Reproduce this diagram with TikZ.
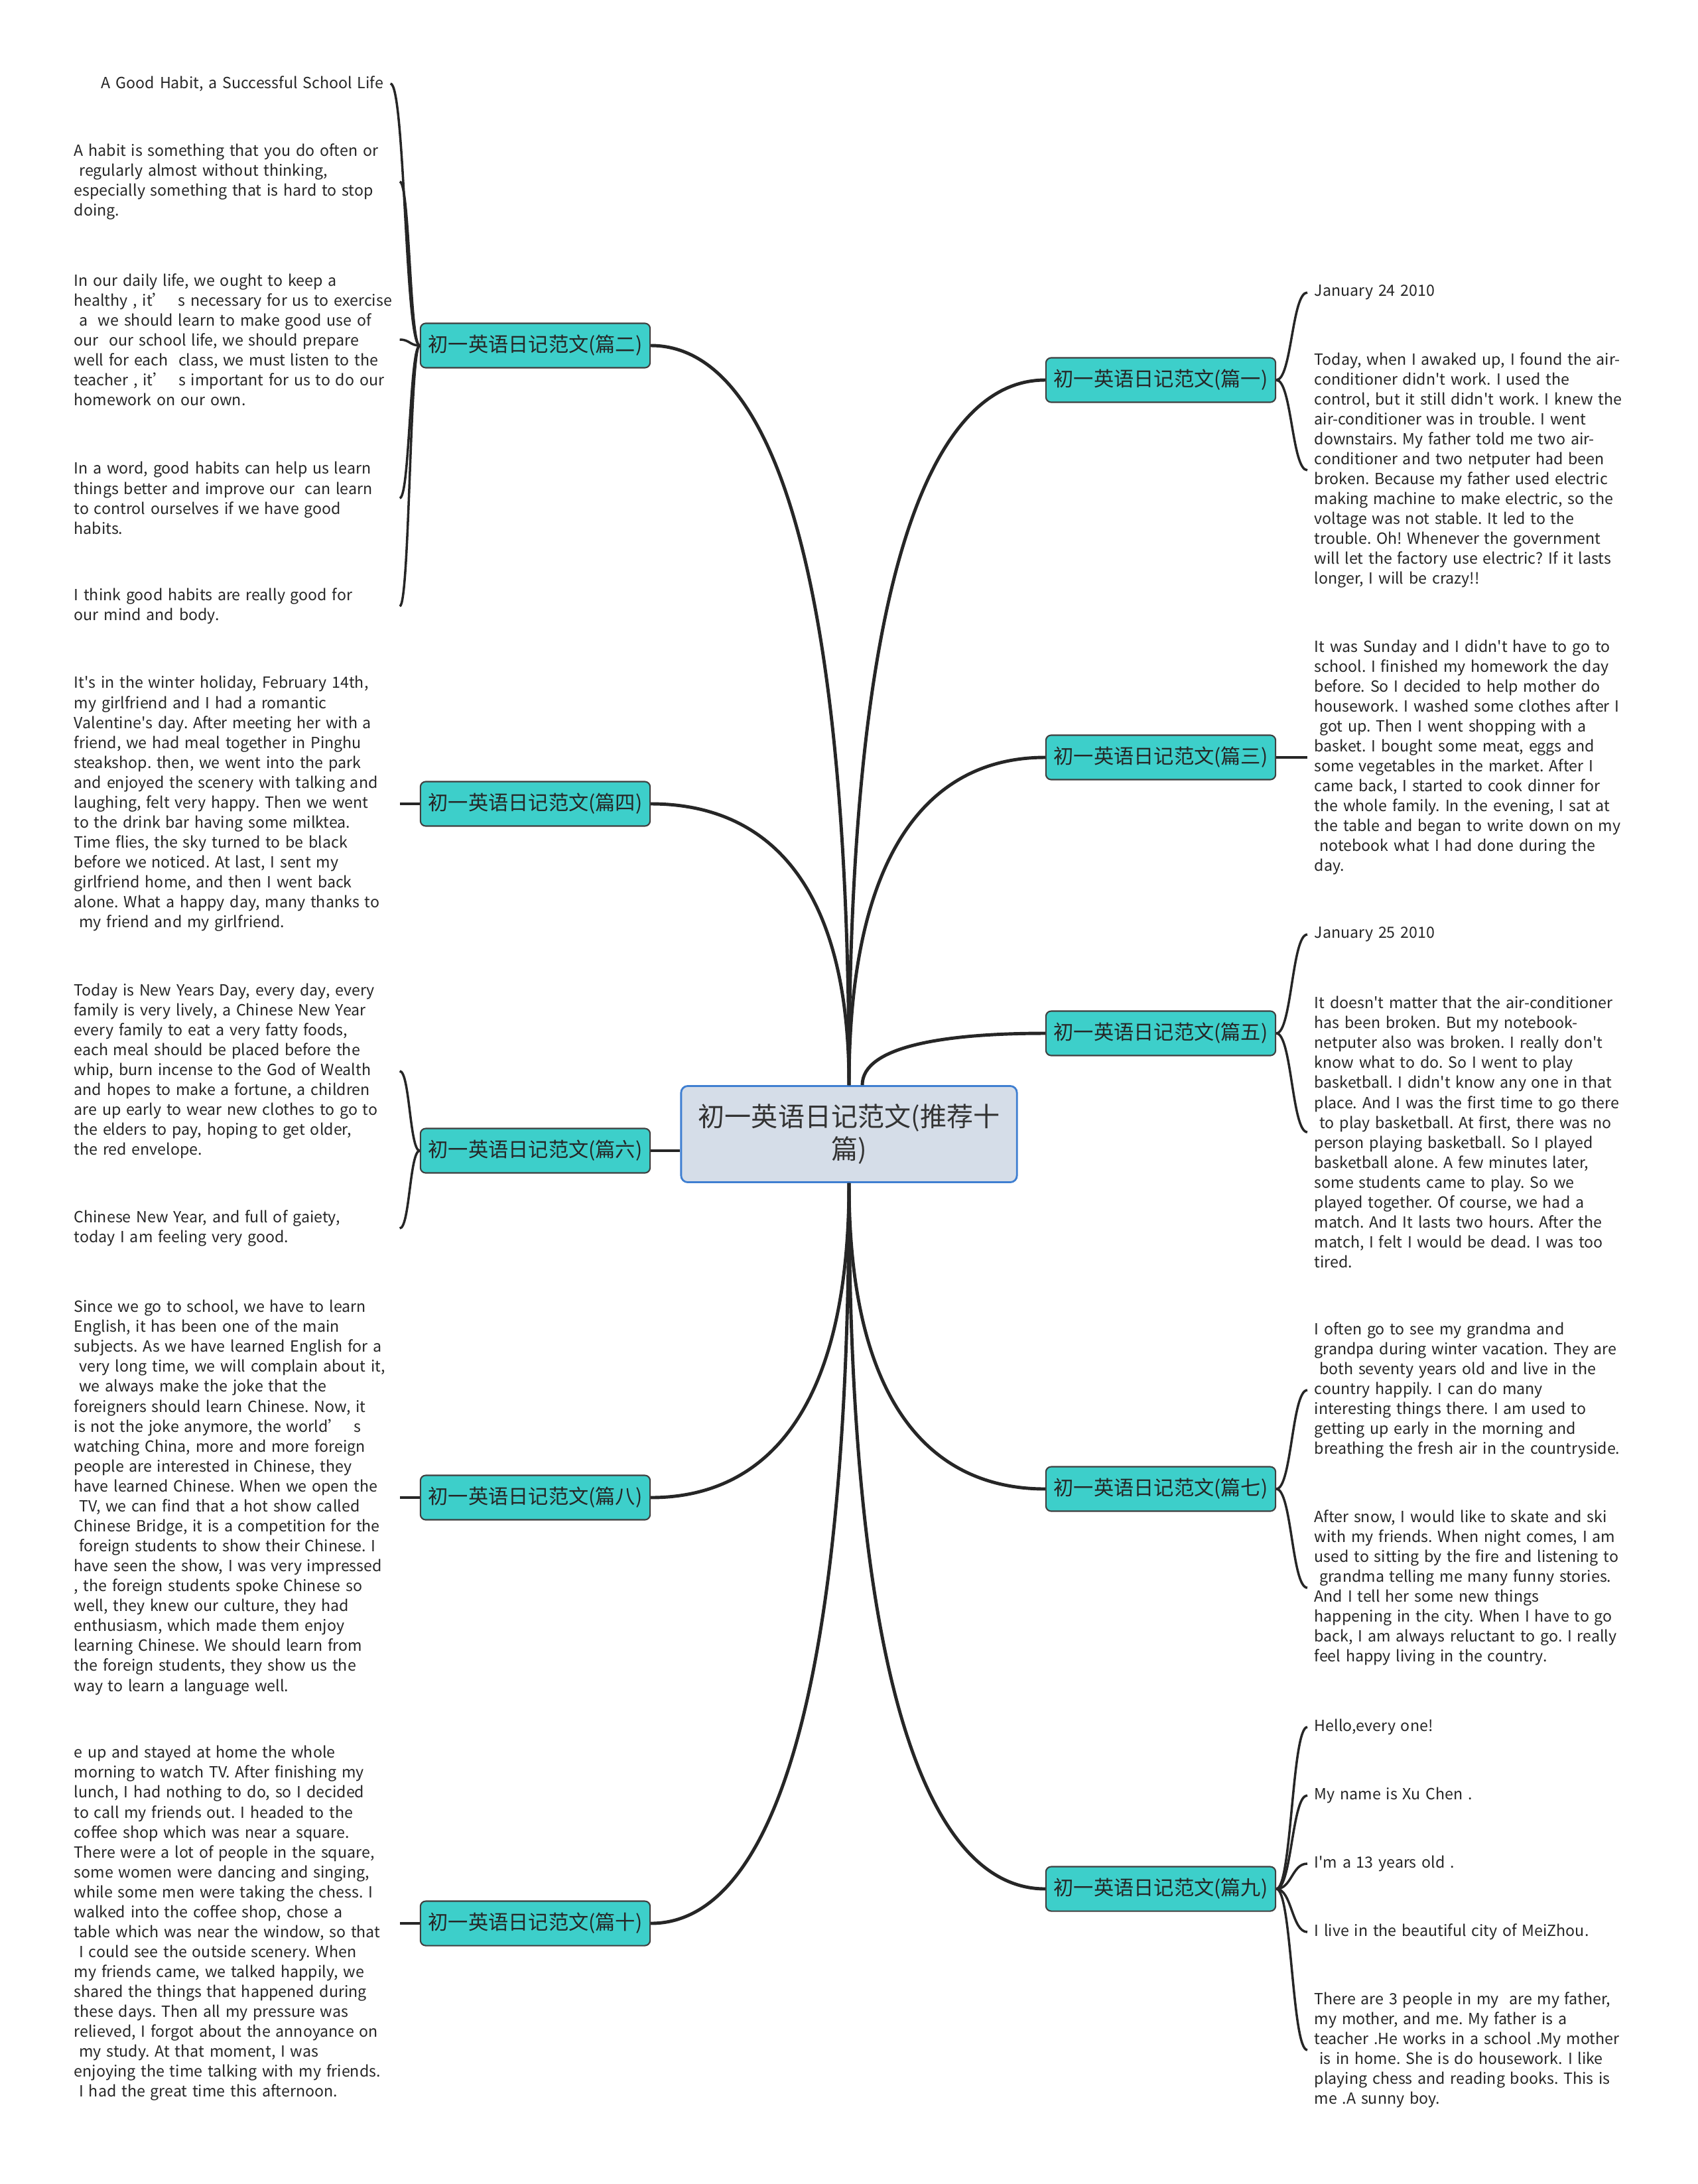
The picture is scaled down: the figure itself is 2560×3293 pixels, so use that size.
\documentclass[tikz,border=0pt]{standalone}
\usepackage{fontspec}
\setmainfont{Noto Sans CJK SC}
\usepackage{tikz}
\usetikzlibrary{calc}

\definecolor{branchfill}{HTML}{3DCFCA}
\definecolor{rootfill}{HTML}{D5DDE8}
\definecolor{rootline}{HTML}{3F7FD1}
\definecolor{linec}{HTML}{262626}
\newcommand\apo{\textquotesingle}
\frenchspacing
\hyphenpenalty=10000
\exhyphenpenalty=10000

\begin{document}
\begin{tikzpicture}[x=0.01cm,y=-0.01cm,
  root/.style={draw=rootline,fill=rootfill,rounded corners=0.1cm,line width=0.8pt,
    minimum width=5.06cm,minimum height=1.45cm,align=center,text=black!80,
    font=\fontsize{11.4}{13.7}\selectfont},
  branch/.style={draw=black!75,fill=branchfill,rounded corners=0.08cm,line width=0.6pt,
    minimum width=3.46cm,minimum height=0.67cm,text=black!85,
    font=\fontsize{8.6}{10}\selectfont},
  leaf/.style={anchor=west,inner xsep=0.1cm,inner ysep=0pt,text width=4.8cm,
    align=left,text=black!85,font=\fontsize{6.6}{8.55}\selectfont},
  trunk/.style={draw=linec,line width=1.4pt,
    to path={.. controls ($(\tikztostart)!.75!(\tikztostart|-\tikztotarget)$)
      and ($(\tikztotarget)!.55!(\tikztostart|-\tikztotarget)$) .. (\tikztotarget)}},
  twig/.style={draw=linec,line width=1pt,
    to path={.. controls ($(\tikztostart)!.5!(\tikztotarget|-\tikztostart)$)
      and ($(\tikztotarget)!.5!(\tikztostart|-\tikztotarget)$) .. (\tikztotarget)}}]
  \fill[white] (0,0) rectangle (2560,3293);
  \useasboundingbox (0,0) rectangle (2560,3293);

  % centre
  \node[root] (root) at (1280,1710) {初一英语日记范文(推荐十\\篇)};
  \coordinate (r5) at ($(root.north)+(20,0)$);

  % branches
  \node[branch] (p2) at (807,521) {初一英语日记范文(篇二)};
  \node[branch] (p4) at (807,1212) {初一英语日记范文(篇四)};
  \node[branch] (p6) at (807,1735) {初一英语日记范文(篇六)};
  \node[branch] (p8) at (807,2258) {初一英语日记范文(篇八)};
  \node[branch] (p10) at (807,2900) {初一英语日记范文(篇十)};
  \node[branch] (p1) at (1750,573) {初一英语日记范文(篇一)};
  \node[branch] (p3) at (1750,1142) {初一英语日记范文(篇三)};
  \node[branch] (p5) at (1750,1558) {初一英语日记范文(篇五)};
  \node[branch] (p7) at (1750,2245) {初一英语日记范文(篇七)};
  \node[branch] (p9) at (1750,2848) {初一英语日记范文(篇九)};

  % left texts
  \node[leaf,align=right,text width=4.66cm] (t2a) at (101,126) {A Good Habit, a Successful School Life};
  \node[leaf] (t2b) at (101,274) {A habit is something that you do often or\\
    ~regularly almost without thinking,\\
    especially something that is hard to stop\\
    doing.};
  \node[leaf] (t2c) at (101,512) {In our daily life, we ought to keep a\\
    healthy , it’~~s necessary for us to exercise\\
    ~a~ we should learn to make good use of\\
    our~ our school life, we should prepare\\
    well for each~ class, we must listen to the\\
    teacher , it’~~s important for us to do our\\
    homework on our own.};
  \node[leaf] (t2d) at (101,751) {In a word, good habits can help us learn\\
    things better and improve our~ can learn\\
    to control ourselves if we have good\\
    habits.};
  \node[leaf] (t2e) at (101,914) {I think good habits are really good for\\
    our mind and body.};
  \node[leaf] (t4) at (101,1212) {It\apo{}s in the winter holiday, February 14th,\\
    my girlfriend and I had a romantic\\
    Valentine\apo{}s day. After meeting her with a\\
    friend, we had meal together in Pinghu\\
    steakshop. then, we went into the park\\
    and enjoyed the scenery with talking and\\
    laughing, felt very happy. Then we went\\
    to the drink bar having some milktea.\\
    Time flies, the sky turned to be black\\
    before we noticed. At last, I sent my\\
    girlfriend home, and then I went back\\
    alone. What a happy day, many thanks to\\
    ~my friend and my girlfriend.};
  \node[leaf] (t6a) at (101,1615) {Today is New Years Day, every day, every\\
    family is very lively, a Chinese New Year\\
    every family to eat a very fatty foods,\\
    each meal should be placed before the\\
    whip, burn incense to the God of Wealth\\
    and hopes to make a fortune, a children\\
    are up early to wear new clothes to go to\\
    the elders to pay, hoping to get older,\\
    the red envelope.};
  \node[leaf] (t6b) at (101,1852) {Chinese New Year, and full of gaiety,\\
    today I am feeling very good.};
  \node[leaf] (t8) at (101,2258) {Since we go to school, we have to learn\\
    English, it has been one of the main\\
    subjects. As we have learned English for a\\
    ~very long time, we will complain about it,\\
    ~we always make the joke that the\\
    foreigners should learn Chinese. Now, it\\
    is not the joke anymore, the world’~~s\\
    watching China, more and more foreign\\
    people are interested in Chinese, they\\
    have learned Chinese. When we open the\\
    ~TV, we can find that a hot show called\\
    Chinese Bridge, it is a competition for the\\
    ~foreign students to show their Chinese. I\\
    have seen the show, I was very impressed\\
    , the foreign students spoke Chinese so\\
    well, they knew our culture, they had\\
    enthusiasm, which made them enjoy\\
    learning Chinese. We should learn from\\
    the foreign students, they show us the\\
    way to learn a language well.};
  \node[leaf] (t10) at (101,2900) {e up and stayed at home the whole\\
    morning to watch TV. After finishing my\\
    lunch, I had nothing to do, so I decided\\
    to call my friends out. I headed to the\\
    coffee shop which was near a square.\\
    There were a lot of people in the square,\\
    some women were dancing and singing,\\
    while some men were taking the chess. I\\
    walked into the coffee shop, chose a\\
    table which was near the window, so that\\
    ~I could see the outside scenery. When\\
    my friends came, we talked happily, we\\
    shared the things that happened during\\
    these days. Then all my pressure was\\
    relieved, I forgot about the annoyance on\\
    ~my study. At that moment, I was\\
    enjoying the time talking with my friends.\\
    ~I had the great time this afternoon.};

  % right texts
  \node[leaf] (t1a) at (1971,441) {January 24 2010};
  \node[leaf] (t1b) at (1971,709) {Today, when I awaked up, I found the air-\\
    conditioner didn\apo{}t work. I used the\\
    control, but it still didn\apo{}t work. I knew the\\
    air-conditioner was in trouble. I went\\
    downstairs. My father told me two air-\\
    conditioner and two netputer had been\\
    broken. Because my father used electric\\
    making machine to make electric, so the\\
    voltage was not stable. It led to the\\
    trouble. Oh! Whenever the government\\
    will let the factory use electric? If it lasts\\
    longer, I will be crazy!!};
  \node[leaf] (t3) at (1971,1142) {It was Sunday and I didn\apo{}t have to go to\\
    school. I finished my homework the day\\
    before. So I decided to help mother do\\
    housework. I washed some clothes after I\\
    ~got up. Then I went shopping with a\\
    basket. I bought some meat, eggs and\\
    some vegetables in the market. After I\\
    came back, I started to cook dinner for\\
    the whole family. In the evening, I sat at\\
    the table and began to write down on my\\
    ~notebook what I had done during the\\
    day.};
  \node[leaf] (t5a) at (1971,1409) {January 25 2010};
  \node[leaf] (t5b) at (1971,1707) {It doesn\apo{}t matter that the air-conditioner\\
    has been broken. But my notebook-\\
    netputer also was broken. I really don\apo{}t\\
    know what to do. So I went to play\\
    basketball. I didn\apo{}t know any one in that\\
    place. And I was the first time to go there\\
    ~to play basketball. At first, there was no\\
    person playing basketball. So I played\\
    basketball alone. A few minutes later,\\
    some students came to play. So we\\
    played together. Of course, we had a\\
    match. And It lasts two hours. After the\\
    match, I felt I would be dead. I was too\\
    tired.};
  \node[leaf] (t7a) at (1971,2096) {I often go to see my grandma and\\
    grandpa during winter vacation. They are\\
    ~both seventy years old and live in the\\
    country happily. I can do many\\
    interesting things there. I am used to\\
    getting up early in the morning and\\
    breathing the fresh air in the countryside.};
  \node[leaf] (t7b) at (1971,2394) {After snow, I would like to skate and ski\\
    with my friends. When night comes, I am\\
    used to sitting by the fire and listening to\\
    ~grandma telling me many funny stories.\\
    And I tell her some new things\\
    happening in the city. When I have to go\\
    back, I am always reluctant to go. I really\\
    feel happy living in the country.};
  \node[leaf] (t9a) at (1971,2604) {Hello,every one!};
  \node[leaf] (t9b) at (1971,2707) {My name is Xu Chen .};
  \node[leaf] (t9c) at (1971,2810) {I\apo{}m a 13 years old .};
  \node[leaf] (t9d) at (1971,2913) {I live in the beautiful city of MeiZhou.};
  \node[leaf] (t9e) at (1971,3091) {There are 3 people in my~ are my father,\\
    my mother, and me. My father is a\\
    teacher .He works in a school .My mother\\
    ~is in home. She is do housework. I like\\
    playing chess and reading books. This is\\
    me .A sunny boy.};

  % centre to branches
  \draw[trunk] (root.north) to (p2.east);
  \draw[trunk] (root.north) to (p4.east);
  \draw[trunk] (root.north) to (p1.west);
  \draw[trunk] (root.north) to (p3.west);
  \draw[trunk] (r5) to (p5.west);
  \draw[draw=linec,line width=1.4pt] (p6.east) -- (p6.east -| root.west);
  \draw[trunk] (root.south) to (p8.east);
  \draw[trunk] (root.south) to (p10.east);
  \draw[trunk] (root.south) to (p7.west);
  \draw[trunk] (root.south) to (p9.west);

  % branches to texts
  \draw[twig] (p2.west) to (t2a.east);
  \draw[twig] (p2.west) to (t2b.east);
  \draw[twig] (p2.west) to (t2c.east);
  \draw[twig] (p2.west) to (t2d.east);
  \draw[twig] (p2.west) to (t2e.east);
  \draw[twig] (p4.west) to (t4.east);
  \draw[twig] (p6.west) to (t6a.east);
  \draw[twig] (p6.west) to (t6b.east);
  \draw[twig] (p8.west) to (t8.east);
  \draw[twig] (p10.west) to (t10.east);
  \draw[twig] (p1.east) to (t1a.west);
  \draw[twig] (p1.east) to (t1b.west);
  \draw[twig] (p3.east) to (t3.west);
  \draw[twig] (p5.east) to (t5a.west);
  \draw[twig] (p5.east) to (t5b.west);
  \draw[twig] (p7.east) to (t7a.west);
  \draw[twig] (p7.east) to (t7b.west);
  \draw[twig] (p9.east) to (t9a.west);
  \draw[twig] (p9.east) to (t9b.west);
  \draw[twig] (p9.east) to (t9c.west);
  \draw[twig] (p9.east) to (t9d.west);
  \draw[twig] (p9.east) to (t9e.west);
\end{tikzpicture}
\end{document}
